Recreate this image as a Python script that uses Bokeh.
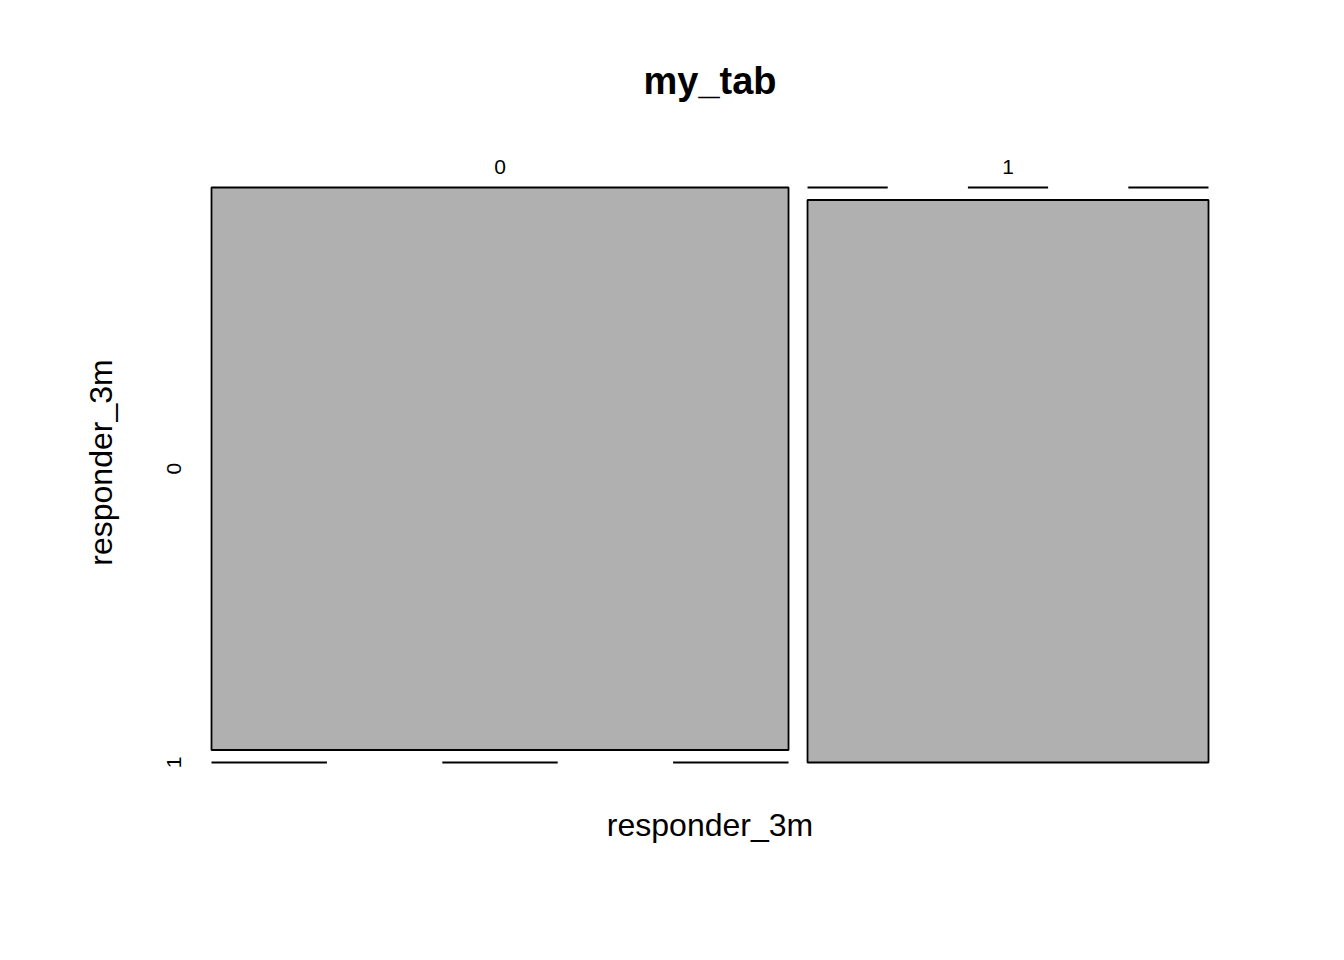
import numpy as np
from bokeh.plotting import figure
from bokeh.models import Range1d, ColumnDataSource
from bokeh.core.properties import value
from bokeh.embed import file_html
from bokeh.resources import INLINE

# ---- data ----
title = "my_tab"
x_var = "responder_3m"
y_var = "responder_3m"
x_levels = ["0", "1"]
y_levels = ["0", "1"]
# counts[x][y]
counts_x0 = [590, 0]
counts_x1 = [0, 410]
counts = [counts_x0, counts_x1]

# ---- layout (pixels) ----
W, H = 1344, 960
X0, X1, Y0, Y1 = 211, 1208, 187, 762
GX, GY = 19, 12.5
FONT = "Liberation Sans"
FILL = "#b0b0b0"

p = figure(width=W, height=H, output_backend="svg", toolbar_location=None,
           x_range=Range1d(0, W), y_range=Range1d(H, 0), min_border=0)
p.axis.visible = False
p.grid.visible = False
p.outline_line_color = None
p.background_fill_color = "white"
p.border_fill_color = "white"

col_tot = np.array([sum(c) for c in counts], dtype=float)
avail_w = (X1 - X0) - GX * (len(x_levels) - 1)
widths = avail_w * col_tot / col_tot.sum()

rects = dict(left=[], right=[], top=[], bottom=[])
segs = dict(x0=[], x1=[], y0=[], y1=[])
x_centers = []
first_col_y = []
xl = X0
for j, cj in enumerate(counts):
    xr = xl + widths[j]
    x_centers.append((xl + xr) / 2)
    avail_h = (Y1 - Y0) - GY * (len(y_levels) - 1)
    yt = Y0
    for i, n in enumerate(cj):
        h = avail_h * n / col_tot[j]
        yb = yt + h
        if n > 0:
            rects["left"].append(xl); rects["right"].append(xr)
            rects["top"].append(yt); rects["bottom"].append(yb)
        else:
            # zero cell: dashed line split into 5 equal parts
            step = (xr - xl) / 5
            for k in (0, 2, 4):
                segs["x0"].append(xl + k * step); segs["x1"].append(xl + (k + 1) * step)
                segs["y0"].append(yt); segs["y1"].append(yt)
        if j == 0:
            first_col_y.append((yt + yb) / 2)
        yt = yb + GY
    xl = xr + GX

p.quad(source=ColumnDataSource(rects), left="left", right="right", top="top", bottom="bottom",
       fill_color=FILL, line_color="black", line_width=1.8)
p.segment(source=ColumnDataSource(segs), x0="x0", y0="y0", x1="x1", y1="y1",
          line_color="black", line_width=1.8)

# tick labels
p.text(x=x_centers, y=[166] * len(x_centers), text=x_levels, text_font=value(FONT),
       text_font_size="21px", text_align="center", text_baseline="middle", text_color="black")
p.text(x=[173] * len(first_col_y), y=first_col_y, text=y_levels, angle=np.pi / 2,
       text_font=value(FONT), text_font_size="21px", text_align="center",
       text_baseline="middle", text_color="black")

# title and axis labels
p.text(x=[(X0 + X1) / 2], y=[80], text=[title], text_font=value(FONT), text_font_size="38px",
       text_font_style="bold", text_align="center", text_baseline="middle", text_color="black")
p.text(x=[(X0 + X1) / 2], y=[824], text=[x_var], text_font=value(FONT), text_font_size="32px",
       text_align="center", text_baseline="middle", text_color="black")
p.text(x=[100], y=[462], text=[y_var], angle=np.pi / 2, text_font=value(FONT),
       text_font_size="32px", text_align="center", text_baseline="middle", text_color="black")

open("out.html", "w").write(file_html(p, INLINE))
